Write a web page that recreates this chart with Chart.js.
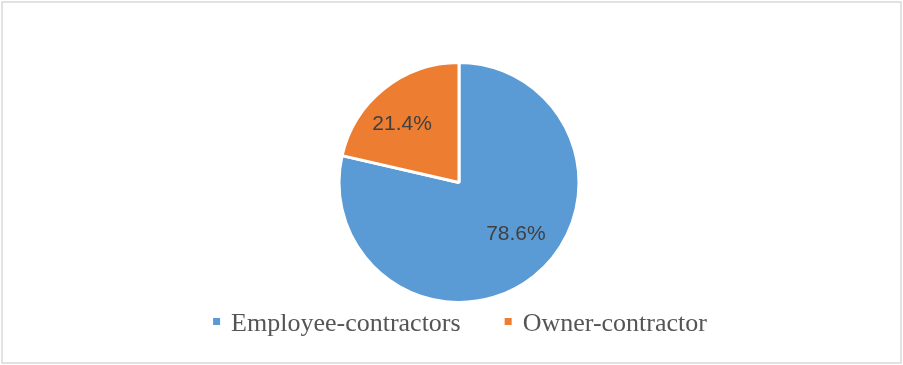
<!DOCTYPE html>
<html>
<head>
<meta charset="utf-8">
<script src="https://cdn.jsdelivr.net/npm/chart.js@4/dist/chart.umd.min.js"></script>
<style>
  body { margin: 0; background: #fff; }
  #wrap { width: 903px; height: 365px; }
</style>
</head>
<body>
<div id="wrap"><canvas id="chartCanvas" width="903" height="365"></canvas></div>
<script>
    var categories = ["Employee-contractors", "Owner-contractor"];
    var shares = [78.6, 21.4];
    var sliceColors = ["#5B9BD5", "#ED7D31"];

    // frame around the whole chart
    var framePlugin = {
        id: 'frame',
        beforeDraw: function(chart) {
            var ctx = chart.ctx;
            ctx.save();
            ctx.fillStyle = '#ffffff';
            ctx.fillRect(0, 0, chart.width, chart.height);
            ctx.strokeStyle = '#d9d9d9';
            ctx.lineWidth = 1.5;
            ctx.strokeRect(2, 2, chart.width - 4, chart.height - 4);
            ctx.restore();
        }
    };

    // percentage labels inside slices
    var sliceLabels = {
        id: 'sliceLabels',
        afterDatasetsDraw: function(chart) {
            var ctx = chart.ctx;
            var meta = chart.getDatasetMeta(0);
            ctx.save();
            ctx.font = '21px "Liberation Sans", Arial, sans-serif';
            ctx.fillStyle = '#404040';
            ctx.textAlign = 'center';
            ctx.textBaseline = 'middle';
            meta.data.forEach(function(arc, i) {
                var mid = (arc.startAngle + arc.endAngle) / 2 - 0.13;
                var r = arc.outerRadius * 0.66;
                var x = arc.x + Math.cos(mid) * r;
                var y = arc.y + Math.sin(mid) * r - 3;
                ctx.fillText(chart.data.datasets[0].data[i].toFixed(1) + '%', x, y);
            });
            ctx.restore();
        }
    };

    // legend row under the pie
    var bottomLegend = {
        id: 'bottomLegend',
        afterDraw: function(chart) {
            var ctx = chart.ctx;
            var box = 7, gapText = 11, gapItem = 44;
            ctx.save();
            ctx.font = '26px "Liberation Serif", "Times New Roman", serif';
            ctx.textBaseline = 'alphabetic';
            var widths = chart.data.labels.map(function(t) { return ctx.measureText(t).width; });
            var total = 0;
            widths.forEach(function(w, i) {
                total += box + gapText + w + (i < widths.length - 1 ? gapItem : 0);
            });
            var x = 460 - total / 2;
            var baseline = 331;
            chart.data.labels.forEach(function(t, i) {
                ctx.fillStyle = chart.data.datasets[0].backgroundColor[i];
                ctx.fillRect(x, baseline - 13, box, box);
                x += box + gapText;
                ctx.fillStyle = '#555555';
                ctx.fillText(t, x, baseline);
                x += widths[i] + gapItem;
            });
            ctx.restore();
        }
    };

    var chartData = {
        labels: categories,
        datasets: [{
            data: shares,
            backgroundColor: sliceColors,
            borderColor: '#ffffff',
            borderWidth: 3
        }]
    };

    var chartOptions = {
        responsive: false,
        animation: false,
        layout: { padding: { top: 61, bottom: 61, left: 15, right: 0 } },
        plugins: {
            legend: { display: false },
            tooltip: { enabled: false }
        }
    };

    window.onload = function() {
        var ctx = document.getElementById("chartCanvas").getContext("2d");
        window.myPie = new Chart(ctx, {
            type: 'pie',
            data: chartData,
            options: chartOptions,
            plugins: [framePlugin, sliceLabels, bottomLegend]
        });
    };
</script>
</body>
</html>
